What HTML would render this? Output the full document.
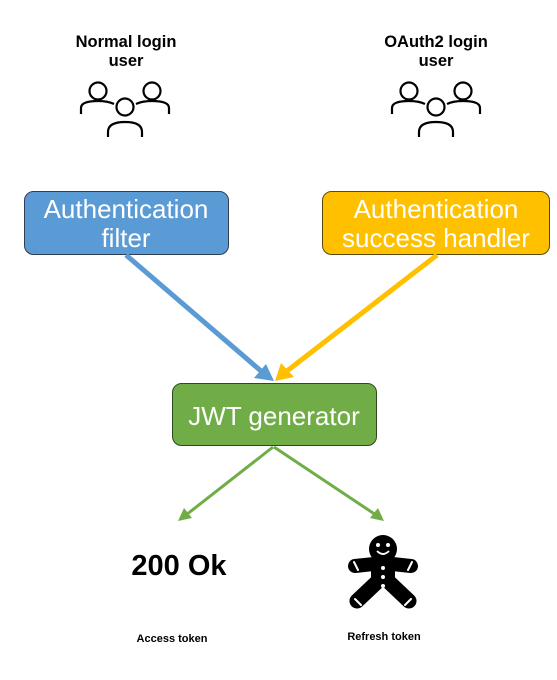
<!DOCTYPE html>
<html><head><meta charset="utf-8"><style>
html,body{margin:0;padding:0;background:#fff;}
svg{display:block}
</style></head><body>
<svg width="557" height="680" viewBox="0 0 557 680" xmlns="http://www.w3.org/2000/svg" font-family="'Liberation Sans', 'Noto Sans CJK KR', sans-serif">
<defs>
<g id="people" fill="none" stroke="#000" stroke-width="2.2">
<circle cx="-27" cy="-14" r="8.5"/>
<circle cx="27" cy="-14" r="8.5"/>
<circle cx="0" cy="2" r="8.5"/>
<path d="M-44 9 V3 Q-44 -4 -27 -4 Q-17 -4 -11 -1"/>
<path d="M44 9 V3 Q44 -4 27 -4 Q17 -4 11 -1"/>
<path d="M-17 32 V27 Q-17 17 0 17 Q17 17 17 27 V32"/>
</g>
</defs>
<text x="126" y="47" font-size="16.5" font-weight="bold" text-anchor="middle">Normal login</text>
<text x="126" y="66" font-size="16.5" font-weight="bold" text-anchor="middle">user</text>
<text x="436" y="47" font-size="16.5" font-weight="bold" text-anchor="middle">OAuth2 login</text>
<text x="436" y="66" font-size="16.5" font-weight="bold" text-anchor="middle">user</text>
<use href="#people" x="125" y="105"/>
<use href="#people" x="436" y="105"/>

<rect x="24.5" y="191.5" width="204" height="63" rx="9" fill="#5b9bd5" stroke="#2f3e52" stroke-width="1"/>
<text x="126" y="218" font-size="26" fill="#fff" text-anchor="middle">Authentication</text>
<text x="126" y="247" font-size="26" fill="#fff" text-anchor="middle">filter</text>
<rect x="322.5" y="191.5" width="227" height="63" rx="9" fill="#ffc000" stroke="#5a4a10" stroke-width="1"/>
<text x="436" y="218" font-size="26" fill="#fff" text-anchor="middle">Authentication</text>
<text x="436" y="247" font-size="26" fill="#fff" text-anchor="middle">success handler</text>

<line x1="126" y1="255" x2="261" y2="371" stroke="#5b9bd5" stroke-width="5"/>
<polygon points="274,381 254,378 266,364" fill="#5b9bd5"/>
<line x1="437" y1="255" x2="287" y2="371" stroke="#ffc000" stroke-width="5"/>
<polygon points="275,381 281,363 294,377" fill="#ffc000"/>

<rect x="172.5" y="383.5" width="204" height="62" rx="9" fill="#70ad47" stroke="#2e4a1e" stroke-width="1"/>
<text x="274" y="425" font-size="26" fill="#fff" text-anchor="middle">JWT generator</text>

<line x1="273" y1="447" x2="186" y2="515" stroke="#70ad47" stroke-width="3"/>
<polygon points="178,521 184,508 192,518" fill="#70ad47"/>
<line x1="274" y1="447" x2="376" y2="515" stroke="#70ad47" stroke-width="3"/>
<polygon points="384,521 370,518 378,508" fill="#70ad47"/>

<text x="179" y="575" font-size="29" font-weight="bold" text-anchor="middle">200 Ok</text>
<text x="172" y="642" font-size="11" font-weight="bold" text-anchor="middle">Access token</text>
<text x="384" y="640" font-size="11" font-weight="bold" text-anchor="middle">Refresh token</text>

<g>
<circle cx="383" cy="549" r="14" fill="#000"/>
<rect x="371" y="558" width="24" height="30" rx="5" fill="#000"/>
<path d="M355 566 L383 563 L411 566" fill="none" stroke="#000" stroke-width="14" stroke-linecap="round" stroke-linejoin="round"/>
<path d="M357 601 L376 583 M409 601 L390 583" fill="none" stroke="#000" stroke-width="15" stroke-linecap="round"/>
<circle cx="378" cy="545" r="2" fill="#fff"/>
<circle cx="388" cy="545" r="2" fill="#fff"/>
<path d="M377 551 Q383 557 389 551" fill="none" stroke="#fff" stroke-width="1.8"/>
<circle cx="383" cy="568" r="2" fill="#fff"/>
<circle cx="383" cy="577" r="2" fill="#fff"/>
<circle cx="383" cy="586" r="2" fill="#fff"/>
<path d="M354 562 L358 570 M412 562 L408 570 M355 599 L361 605 M411 599 L405 605" stroke="#fff" stroke-width="2" stroke-linecap="round"/>
</g>
</svg>
</body></html>
